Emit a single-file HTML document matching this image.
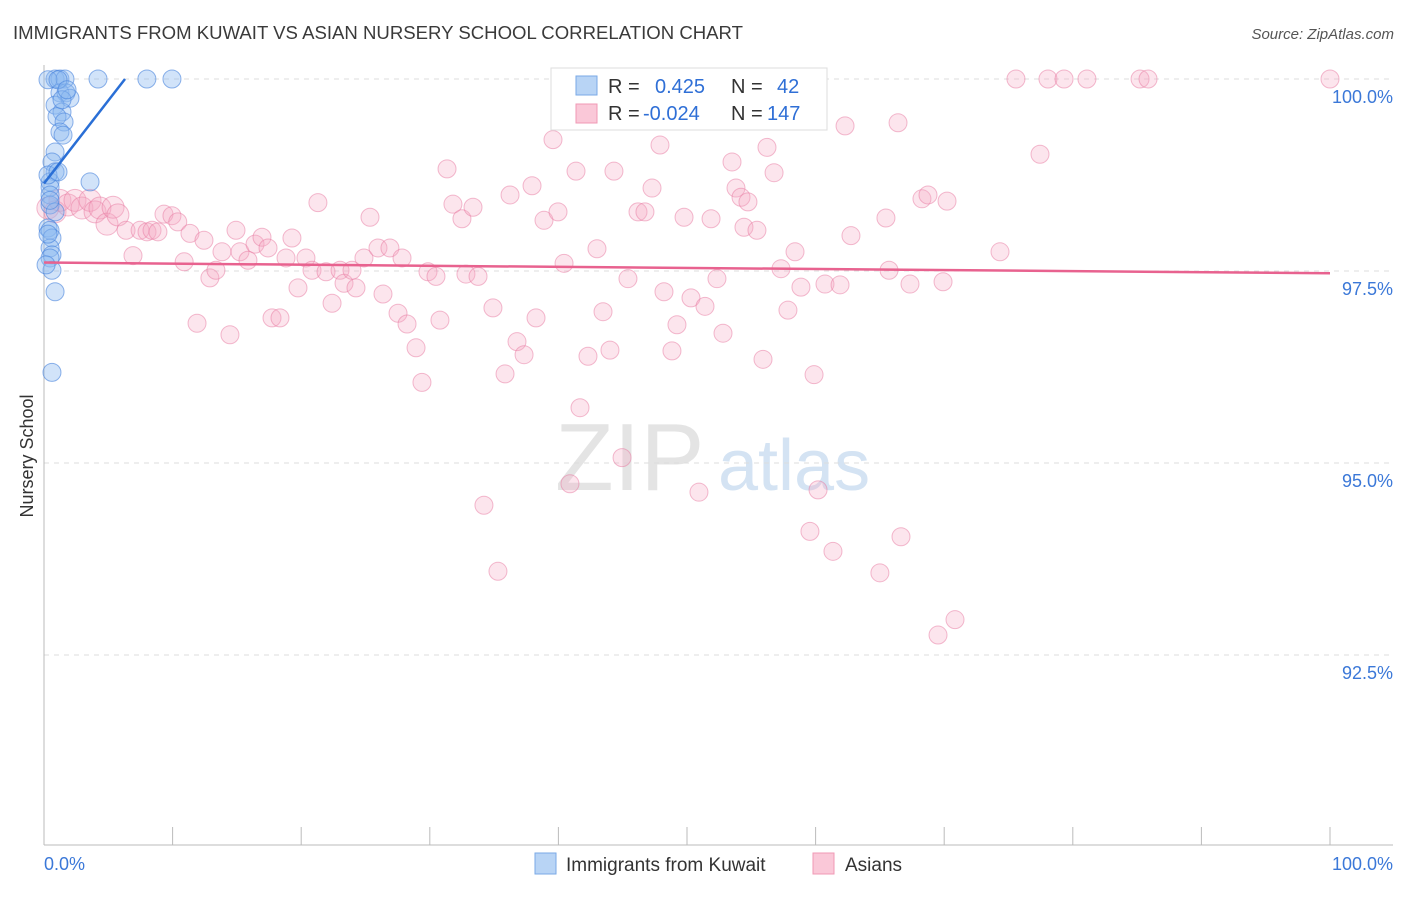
<!DOCTYPE html>
<html><head><meta charset="utf-8"><style>
body{margin:0;background:#fff;font-family:"Liberation Sans",sans-serif;}
svg text{font-family:"Liberation Sans",sans-serif;}
</style></head><body>
<svg id="chart" width="1406" height="892" xmlns="http://www.w3.org/2000/svg">
<text x="13" y="39" font-size="18" fill="#3a3a3a" textLength="730" lengthAdjust="spacingAndGlyphs">IMMIGRANTS FROM KUWAIT VS ASIAN NURSERY SCHOOL CORRELATION CHART</text>
<text x="1394" y="39" font-size="15" fill="#555" text-anchor="end" font-style="italic">Source: ZipAtlas.com</text>
<text x="555" y="490" font-size="96" fill="#e4e4e4" font-family="Liberation Serif">ZIP</text>
<text x="718" y="490" font-size="72" fill="#d4e3f3">atlas</text>
<text transform="translate(33,456) rotate(-90)" font-size="18" fill="#333" text-anchor="middle">Nursery School</text>
<g id="grid"></g><g id="axes"></g><g id="pink"></g><g id="blue"></g><g id="trends"></g>
<g>
<rect x="551" y="68" width="276" height="62" fill="#fff" stroke="#ddd"/>
<rect x="576" y="76" width="21" height="19" fill="#b8d4f5" stroke="#7aa9e6"/>
<rect x="576" y="104" width="21" height="19" fill="#fac8d8" stroke="#f099b5"/>
<text x="608" y="93" font-size="20" fill="#333">R =</text><text x="655" y="93" font-size="20" fill="#2f6fd6">0.425</text>
<text x="731" y="93" font-size="20" fill="#333">N =</text><text x="777" y="93" font-size="20" fill="#2f6fd6">42</text>
<text x="608" y="120" font-size="20" fill="#333">R =</text><text x="643" y="120" font-size="20" fill="#2f6fd6">-0.024</text>
<text x="731" y="120" font-size="20" fill="#333">N =</text><text x="767" y="120" font-size="20" fill="#2f6fd6">147</text>
</g>
<g>
<rect x="535" y="853" width="21" height="21" fill="#b8d4f5" stroke="#7aa9e6"/>
<text x="566" y="871" font-size="19" fill="#333">Immigrants from Kuwait</text>
<rect x="813" y="853" width="21" height="21" fill="#fac8d8" stroke="#f099b5"/>
<text x="845" y="871" font-size="19" fill="#333">Asians</text>
</g>
<text x="44" y="870" font-size="18" fill="#3b78d8">0.0%</text>
<text x="1393" y="870" font-size="18" fill="#3b78d8" text-anchor="end">100.0%</text>
</svg>
<script>
const yTicks=[100,97.5,95,92.5];
const yTickLabels=["100.0%","97.5%","95.0%","92.5%"];
const xTicks=[0,10,20,30,40,50,60,70,80,90,100];
const pinkX=[.3,.86,1.24,1.87,2.41,2.95,3.58,3.97,4.35,4.9,5.37,5.75,6.38,6.92,7.47,8.01,8.4,8.86,9.33,9.95,10.4,10.9,11.35,11.9,12.44,12.9,13.37,13.84,14.46,14.93,15.24,15.86,16.41,16.95,17.42,17.73,18.35,18.82,19.28,19.75,20.37,20.84,21.3,21.93,22.4,23.02,23.33,23.95,24.26,24.88,25.35,25.97,26.36,26.9,27.53,27.84,28.23,28.93,29.39,29.86,30.48,30.79,31.34,31.8,32.5,33.36,32.81,33.75,34.21,34.91,35.3,35.85,36.24,36.78,37.33,37.95,38.26,38.88,39.58,39.97,40.44,40.9,41.37,41.68,42.3,43.0,43.47,44.01,44.32,44.95,45.41,45.72,46.19,46.73,47.28,47.9,48.21,48.83,49.22,49.77,50.31,50.93,51.4,51.87,52.33,52.8,53.5,53.81,54.2,54.43,54.74,55.44,55.91,56.22,56.77,57.31,57.85,58.4,58.86,59.56,59.88,60.19,60.73,61.35,61.9,62.29,62.75,65.0,65.47,65.71,66.41,66.64,67.34,68.27,68.74,69.52,69.91,70.22,70.84,74.34,75.58,77.45,78.07,79.32,81.1,85.23,85.85,100];
const pinkY=[98.32,98.27,98.42,98.36,98.42,98.32,98.42,98.27,98.32,98.11,98.33,98.23,98.03,97.70,98.03,98.01,98.03,98.01,98.24,98.22,98.14,97.62,97.99,96.82,97.90,97.41,97.51,97.75,96.67,98.03,97.75,97.64,97.85,97.94,97.80,96.89,96.89,97.67,97.93,97.28,97.67,97.51,98.39,97.49,97.08,97.51,97.34,97.51,97.28,97.67,98.20,97.80,97.20,97.80,96.95,97.67,96.81,96.50,96.05,97.49,97.43,96.86,98.83,98.37,98.18,98.33,97.46,97.43,94.45,97.02,93.59,96.16,98.49,96.58,96.41,98.61,96.89,98.16,99.21,98.27,97.60,94.73,98.80,95.72,96.39,97.79,96.97,96.47,98.80,95.07,97.40,99.56,98.27,98.27,98.58,99.14,97.23,96.46,96.80,98.20,97.15,94.62,97.04,98.18,97.40,96.69,98.92,98.58,98.46,98.07,98.40,98.03,96.35,99.11,98.78,97.53,96.99,97.75,97.29,94.11,96.15,94.65,97.33,93.85,97.32,99.39,97.96,93.57,98.19,97.51,99.43,94.04,97.33,98.44,98.49,92.76,97.36,98.41,92.96,97.75,100,99.02,100,100,100,100,100,100];
const blueX=[.86,1.24,1.63,4.2,8.0,9.95,1.24,1.71,2.02,.86,1.4,1.01,1.56,1.24,.86,.62,.86,.47,.47,3.58,.47,.47,.86,.31,.47,.62,.47,.62,.47,.62,.86,.62,.31,1.09,1.48,.31,1.09,.31,.16,1.4,.47,1.79];
const blueY=[100,100,100,100,100,100,99.82,99.82,99.75,99.66,99.57,99.51,99.44,99.31,99.05,98.92,98.79,98.66,98.59,98.66,98.49,98.36,98.27,98.06,98.03,97.93,97.80,97.71,97.67,97.51,97.23,96.18,99.99,99.99,99.27,98.75,98.79,97.98,97.58,99.73,98.42,99.86];
const blueTrend=[[0,98.64],[6.3,100]];
const pinkTrend=[[0,97.61],[100,97.47]];
const NS="http://www.w3.org/2000/svg";
const X=v=>44+v*12.86;
const Y=v=>79+(100-v)*76.8;
function mk(tag,attrs,parent){const e=document.createElementNS(NS,tag);for(const k in attrs)e.setAttribute(k,attrs[k]);document.getElementById(parent).appendChild(e);return e;}
yTicks.forEach((t,i)=>{
  const l=mk('line',{x1:44,x2:1393,y1:Y(t),y2:Y(t),stroke:'#ddd','stroke-dasharray':'5,5'},'grid');
  
  
  const tx=mk('text',{x:1393,y:Y(t)+24,'font-size':18,fill:'#3b78d8','text-anchor':'end'},'grid');
  tx.textContent=yTickLabels[i];
  
  
});
const ax=mk('line',{x1:44,x2:44,y1:65,y2:845,stroke:'#bbb'},'axes');


const bx=mk('line',{x1:44,x2:1393,y1:845,y2:845,stroke:'#bbb'},'axes');


xTicks.forEach(t=>{
  const l=mk('line',{x1:X(t),x2:X(t),y1:827,y2:845,stroke:'#bbb'},'axes');
  
  
});
pinkX.forEach((x,i)=>{
  const c=mk('circle',{cx:X(x),cy:Y(pinkY[i]),r:x<6?11:9,fill:'rgba(246,170,195,0.3)',stroke:'rgba(232,120,160,0.5)','stroke-width':1},'pink');
  
  
});
blueX.forEach((x,i)=>{
  const c=mk('circle',{cx:X(x),cy:Y(blueY[i]),r:9,fill:'rgba(140,185,240,0.4)',stroke:'rgba(70,130,220,0.6)','stroke-width':1},'blue');
  
  
});
const bt=mk('line',{x1:X(blueTrend[0][0]),y1:Y(blueTrend[0][1]),x2:X(blueTrend[1][0]),y2:Y(blueTrend[1][1]),stroke:'#2a6fd6','stroke-width':2.5},'trends');


const pt=mk('line',{x1:X(pinkTrend[0][0]),y1:Y(pinkTrend[0][1]),x2:X(pinkTrend[1][0]),y2:Y(pinkTrend[1][1]),stroke:'#e8628f','stroke-width':2.5},'trends');


</script>
</body></html>
